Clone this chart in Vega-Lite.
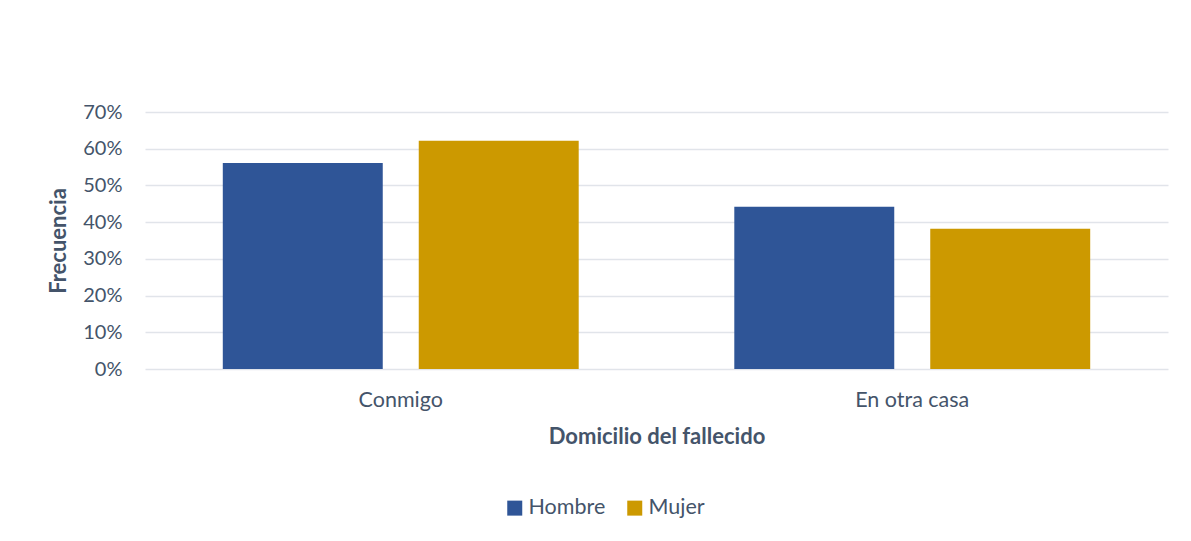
{
  "$schema": "https://vega.github.io/schema/vega-lite/v6.json",
  "width": 1023,
  "height": 257,
  "autosize": {"type": "none"},
  "padding": {"left": 145, "top": 112, "right": 23, "bottom": 172},
  "background": "white",
  "data": {
    "values": [
      {"domicilio": "Conmigo", "sexo": "Hombre", "valor": 0.561},
      {"domicilio": "Conmigo", "sexo": "Mujer", "valor": 0.622},
      {"domicilio": "En otra casa", "sexo": "Hombre", "valor": 0.442},
      {"domicilio": "En otra casa", "sexo": "Mujer", "valor": 0.382}
    ]
  },
  "mark": {"type": "bar"},
  "encoding": {
    "x": {
      "field": "domicilio",
      "type": "nominal",
      "sort": ["Conmigo", "En otra casa"],
      "scale": {"paddingInner": 0, "paddingOuter": 0},
      "axis": {
        "title": "Domicilio del fallecido",
        "labelAngle": 0,
        "labelFontSize": 21.5,
        "labelPadding": 20,
        "titleFontSize": 22,
        "titleFontWeight": "bold",
        "titlePadding": 16,
        "ticks": false,
        "domain": false,
        "grid": false
      }
    },
    "xOffset": {
      "field": "sexo",
      "type": "nominal",
      "sort": ["Hombre", "Mujer"],
      "scale": {"paddingInner": 0.1837, "paddingOuter": 0.397}
    },
    "y": {
      "field": "valor",
      "type": "quantitative",
      "scale": {"domain": [0, 0.7]},
      "axis": {
        "title": "Frecuencia",
        "format": ".0%",
        "values": [0, 0.1, 0.2, 0.3, 0.4, 0.5, 0.6, 0.7],
        "labelFontSize": 20,
        "labelPadding": 23,
        "titleFontSize": 22,
        "titleFontWeight": "bold",
        "titlePadding": 12,
        "ticks": false,
        "domain": false,
        "grid": true,
        "gridColor": "#e1e4ea",
        "gridWidth": 1.5
      }
    },
    "color": {
      "field": "sexo",
      "type": "nominal",
      "sort": ["Hombre", "Mujer"],
      "scale": {"domain": ["Hombre", "Mujer"], "range": ["#2f5597", "#cc9900"]},
      "legend": {
        "title": null,
        "orient": "none",
        "direction": "horizontal",
        "legendX": 359,
        "legendY": 385,
        "symbolType": "square",
        "symbolSize": 225,
        "symbolStrokeWidth": 0,
        "labelFontSize": 21.5,
        "labelOffset": 3,
        "columnPadding": 18
      }
    }
  },
  "config": {
    "font": "Lato",
    "view": {"stroke": null},
    "axis": {"labelColor": "#44546a", "titleColor": "#44546a"},
    "legend": {"labelColor": "#44546a"}
  }
}
